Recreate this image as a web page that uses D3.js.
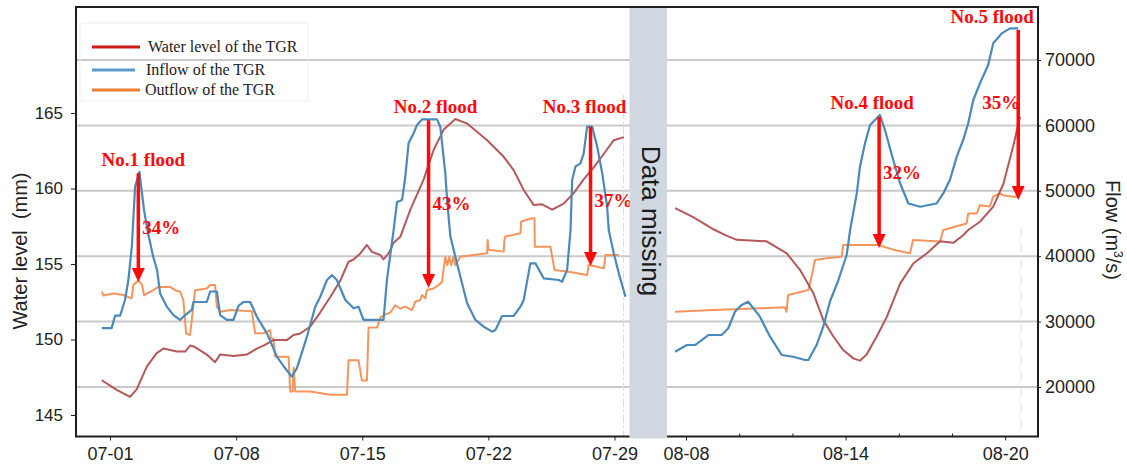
<!DOCTYPE html>
<html>
<head>
<meta charset="utf-8">
<script src="https://cdn.jsdelivr.net/npm/d3@7"></script>
<style>
  body { margin: 0; background: #fff; }
  svg { display: block; }
  .tick text { font-family: "Liberation Sans", Arial, sans-serif; fill: #222; }
  .tick line { stroke: #222; }
</style>
</head>
<body>
<svg id="chart" width="1127" height="465"></svg>
<script>
// [day of month, value]  -- July panel
var julWaterLevel = [
  [0.54, 147.3], [1.37, 146.66], [2.11, 146.2], [2.48, 146.7], [3.04, 148.2], [3.59, 149.1],
  [3.96, 149.4], [4.71, 149.2], [5.17, 149.2], [5.44, 149.6], [5.72, 149.5], [6.37, 149.0],
  [6.83, 148.5], [7.11, 149.0], [7.85, 148.9], [8.59, 149.0], [9.15, 149.4], [9.52, 149.6],
  [10.07, 149.96], [10.82, 149.96], [11.18, 150.3], [11.56, 150.4], [12.11, 150.85],
  [12.67, 151.8], [13.22, 152.8], [13.78, 153.9], [14.24, 155.15], [14.52, 155.3],
  [14.89, 155.7], [15.26, 156.26], [15.54, 155.8], [16.0, 155.6], [16.18, 155.3],
  [16.46, 155.7], [16.74, 156.4], [17.11, 156.8], [17.67, 158.6], [18.41, 160.6],
  [18.96, 162.55], [19.52, 163.9], [20.17, 164.6], [20.82, 164.3], [21.93, 163.2],
  [22.85, 162.1], [23.41, 161.2], [23.96, 159.9], [24.52, 158.9], [24.98, 158.95],
  [25.54, 158.6], [26.18, 159.0], [26.74, 159.7], [27.29, 160.6], [27.85, 161.4],
  [28.41, 162.3], [28.96, 163.2], [29.52, 163.4]
];
var julInflow = [
  [0.54, 29000], [1.09, 29000], [1.28, 30900], [1.56, 30900], [1.83, 33300], [2.02, 36400],
  [2.21, 41500], [2.39, 50600], [2.63, 52900], [2.89, 47000], [3.11, 43500], [3.39, 40000],
  [3.61, 37900], [3.78, 34300], [4.15, 32300], [4.52, 31000], [4.89, 30250], [5.17, 31000],
  [5.54, 31800], [5.63, 33000], [6.37, 33000], [6.56, 34600], [6.93, 34600], [7.11, 31000],
  [7.48, 30250], [7.85, 30250], [8.13, 32400], [8.41, 33000], [8.78, 33000], [9.15, 30750],
  [9.71, 28200], [10.26, 24640], [10.72, 22860], [11.09, 21580], [11.37, 22860],
  [11.93, 27690], [12.39, 32280], [12.67, 33800], [13.04, 36360], [13.32, 37100],
  [13.59, 36360], [14.06, 33300], [14.52, 32030], [14.79, 32280], [15.07, 30250],
  [16.18, 30250], [16.37, 36360], [16.74, 44000], [16.93, 48300], [17.21, 48600],
  [17.39, 52150], [17.57, 57260], [17.85, 58800], [18.04, 60060], [18.32, 60930],
  [19.15, 60930], [19.33, 59800], [19.61, 52660], [19.71, 48600], [19.89, 43000],
  [20.26, 38900], [20.82, 32800], [21.28, 30250], [21.74, 29220], [22.21, 28460],
  [22.39, 28700], [22.76, 30860], [23.41, 30860], [23.78, 32280], [23.96, 33300],
  [24.33, 38900], [24.61, 38900], [25.07, 36620], [25.91, 36360], [26.09, 36100],
  [26.37, 37900], [26.56, 44000], [26.65, 51650], [26.83, 53690], [27.11, 54200],
  [27.29, 55730], [27.48, 59800], [27.76, 59800], [28.04, 56750], [28.32, 52660],
  [28.59, 47600], [28.68, 44000], [28.96, 40440], [29.24, 37380], [29.61, 33800]
];
var julOutflow = [
  [0.54, 34570], [0.63, 34000], [1.18, 34300], [1.74, 34070], [2.2, 33550], [2.29, 35600],
  [2.57, 36300], [2.78, 35600], [2.89, 34000], [3.04, 34300], [3.41, 34800], [3.68, 35300],
  [4.33, 35300], [4.61, 34800], [4.89, 34570], [5.07, 33300], [5.22, 28200], [5.44, 27950],
  [5.54, 30250], [5.72, 34800], [6.37, 35060], [6.56, 35600], [6.83, 35600], [6.93, 32280],
  [7.11, 31510], [7.67, 31770], [8.87, 31600], [8.96, 29900], [9.06, 28200], [9.52, 28200],
  [9.89, 28700], [9.93, 27400], [10.07, 27400], [10.17, 24640], [10.91, 24640], [11.0, 19300],
  [11.14, 19300], [11.19, 23000], [11.28, 19300], [11.39, 19300], [12.11, 19300],
  [13.22, 18800], [14.15, 18800], [14.24, 24100], [14.79, 24100], [14.98, 21000],
  [15.26, 21000], [15.35, 29100], [15.82, 29100], [16.0, 30600], [16.28, 31100],
  [16.56, 31400], [16.83, 32500], [17.11, 32000], [17.39, 32300], [17.76, 31770],
  [17.94, 33040], [18.22, 33300], [18.32, 34070], [18.5, 33550], [18.59, 34830],
  [18.96, 35060], [19.24, 35600], [19.43, 36100], [19.52, 38140], [19.61, 39900],
  [19.72, 38600], [19.83, 39900], [19.94, 38600], [20.06, 39900], [20.17, 38600],
  [20.33, 39400], [20.44, 39920], [21.93, 40440], [21.96, 42480], [22.0, 41000],
  [22.85, 40700], [22.89, 42480], [22.94, 43000], [23.78, 43500], [23.82, 45300],
  [24.43, 45800], [24.56, 45800], [24.58, 41450], [25.44, 41450], [25.54, 39920],
  [25.67, 37900], [26.46, 37630], [27.48, 37120], [27.57, 38650], [28.04, 38400],
  [28.41, 38140], [28.5, 40180], [29.24, 40180]
];

// [day of month, value]  -- August panel
var augWaterLevel = [
  [7.59, 158.7], [8.27, 158.1], [9.03, 157.3], [9.5, 156.9], [9.91, 156.6], [11.03, 156.5],
  [11.79, 155.7], [12.29, 154.6], [12.79, 153.06], [13.16, 151.3], [13.54, 150.2],
  [13.91, 149.3], [14.29, 148.75], [14.54, 148.6], [14.79, 149.0], [15.17, 150.2],
  [15.55, 151.5], [16.05, 153.7], [16.55, 155.05], [17.05, 155.7], [17.55, 156.5],
  [18.05, 156.4], [18.42, 156.9], [18.61, 157.25], [19.05, 157.8], [19.55, 158.8],
  [19.93, 160.3], [20.3, 162.8], [20.56, 164.75]
];
var augInflow = [
  [7.59, 25400], [8.03, 26420], [8.34, 26420], [8.84, 27950], [9.34, 27950], [9.59, 28980],
  [9.84, 31510], [10.09, 32540], [10.34, 33040], [10.78, 30750], [11.16, 27690],
  [11.6, 24890], [12.03, 24630], [12.47, 24130], [12.6, 24130], [12.91, 26420],
  [13.16, 29220], [13.41, 33040], [13.73, 36360], [14.04, 40180], [14.17, 44000],
  [14.42, 49600], [14.54, 53690], [14.73, 57260], [14.92, 60060], [15.17, 61080],
  [15.29, 61590], [15.48, 59300], [15.79, 54700], [16.05, 51150], [16.36, 48060],
  [16.8, 47560], [17.42, 48060], [17.67, 49600], [17.92, 51650], [18.18, 55220],
  [18.42, 57770], [18.61, 60320], [18.8, 63880], [19.05, 66440], [19.36, 69240],
  [19.55, 72550], [19.87, 74070], [20.18, 74840], [20.49, 74840]
];
var augOutflow = [
  [7.59, 31510], [9.03, 31770], [10.78, 32030], [11.72, 32180], [11.78, 31510],
  [11.84, 34070], [12.6, 34830], [12.72, 36870], [12.85, 39420], [13.29, 39670],
  [13.85, 39920], [13.91, 41710], [14.54, 41710], [15.23, 41710], [15.79, 41000],
  [16.42, 40440], [16.54, 42480], [17.55, 42230], [17.67, 44000], [18.55, 45000],
  [18.61, 46530], [18.93, 46530], [19.05, 47800], [19.42, 47600], [19.55, 49100],
  [19.8, 49600], [19.92, 49300], [20.3, 49100], [20.49, 49100]
];

// flood peaks: panel, day, inflow at peak, outflow at arrow tip, reduction
var floodNames = ['No.1 flood', 'No.2 flood', 'No.3 flood', 'No.4 flood', 'No.5 flood'];
var floodPanels = ['jul', 'jul', 'jul', 'aug', 'aug'];
var floodDays = [2.57, 18.68, 27.67, 15.26, 20.49];
var floodTops = [52700, 60800, 59750, 61300, 74600];
var floodBottoms = [36050, 35150, 38500, 41250, 48600];
var floodCuts = ['34%', '43%', '37%', '32%', '35%'];

var julTicks = [1, 8, 15, 22, 29];
var augTicks = [8, 14, 20];
var augMinorTicks = [10, 12, 16, 18];
var levelTicks = [145, 150, 155, 160, 165];
var flowTicks = [20000, 30000, 40000, 50000, 60000, 70000];

var legendLabels = ['Water level of the TGR', 'Inflow of the TGR', 'Outflow of the TGR'];

// layout
var LEFT = 76, RIGHT = 1038, TOP = 7, BOTTOM = 436.5;
var GAP_X0 = 629.5, GAP_X1 = 667;

var COLOR_LEVEL = '#b3585b';
var COLOR_IN = '#4a89b9';
var COLOR_OUT = '#f3955c';
var LEGEND_COLORS = ['#cc1a1a', '#5a9bd0', '#ee7d35'];
var RED = '#ff0a0a';

var svg = d3.select('#chart');

var xJul = d3.scaleLinear().domain([-0.889, 29.833]).range([LEFT, GAP_X0]);
var xAug = d3.scaleLinear().domain([7.286, 21.233]).range([GAP_X1, RIGHT]);
var yLevel = d3.scaleLinear().domain([145, 165]).range([415, 113]);
var yFlow = d3.scaleLinear().domain([20000, 70000]).range([387, 60]);

svg.append('rect').attr('width', 1127).attr('height', 465).attr('fill', '#fff');

// horizontal grid from the flow axis
svg.append('g').selectAll('line')
  .data(flowTicks)
  .enter().append('line')
  .attr('x1', LEFT).attr('x2', RIGHT)
  .attr('y1', function (d) { return yFlow(d); })
  .attr('y2', function (d) { return yFlow(d); })
  .attr('stroke', '#c9c9c9')
  .attr('stroke-width', 2);

// faint "latest" markers
svg.append('line')
  .attr('x1', xJul(29.5)).attr('x2', xJul(29.5))
  .attr('y1', 95).attr('y2', BOTTOM)
  .attr('stroke', '#dcdcdc').attr('stroke-dasharray', '8,3,2,3');
svg.append('line')
  .attr('x1', xAug(20.6)).attr('x2', xAug(20.6))
  .attr('y1', 228).attr('y2', BOTTOM)
  .attr('stroke', '#dcdcdc').attr('stroke-dasharray', '8,3,2,3');

// legend
var legend = svg.append('g');
legend.append('rect')
  .attr('x', 80).attr('y', 23).attr('width', 228).attr('height', 78)
  .attr('fill', 'none').attr('stroke', '#f0f0f0');
var legendY = [47, 70, 90];
var legendX2 = [140, 135, 140];
var legendTx = [148, 146, 145];
legendLabels.forEach(function (label, i) {
  legend.append('line')
    .attr('x1', 92).attr('x2', legendX2[i])
    .attr('y1', legendY[i]).attr('y2', legendY[i])
    .attr('stroke', LEGEND_COLORS[i]).attr('stroke-width', 3);
  legend.append('text')
    .attr('x', legendTx[i]).attr('y', legendY[i] + 5)
    .attr('font-family', '"Liberation Serif", "Times New Roman", serif')
    .attr('font-size', 16)
    .attr('fill', '#222')
    .text(label);
});

// series
function drawPanel (x, level, inflow, outflow) {
  var levelLine = d3.line()
    .x(function (d) { return x(d[0]); })
    .y(function (d) { return yLevel(d[1]); });
  var flowLine = d3.line()
    .x(function (d) { return x(d[0]); })
    .y(function (d) { return yFlow(d[1]); });

  svg.append('path').datum(outflow)
    .attr('d', flowLine)
    .attr('fill', 'none').attr('stroke', COLOR_OUT).attr('stroke-width', 2)
    .attr('stroke-linejoin', 'round');
  svg.append('path').datum(level)
    .attr('d', levelLine)
    .attr('fill', 'none').attr('stroke', COLOR_LEVEL).attr('stroke-width', 2)
    .attr('stroke-linejoin', 'round');
  svg.append('path').datum(inflow)
    .attr('d', flowLine)
    .attr('fill', 'none').attr('stroke', COLOR_IN).attr('stroke-width', 2.2)
    .attr('stroke-linejoin', 'round');
}

drawPanel(xJul, julWaterLevel, julInflow, julOutflow);
drawPanel(xAug, augWaterLevel, augInflow, augOutflow);

// flood arrows and labels
var nameDx = [5, 7, -6, -7, -26];
var nameGap = [7, 7, 14, 8, 7];
var cutDy = [6, 6, 10, -3, -6];
var serif = '"Liberation Serif", "Times New Roman", serif';

floodNames.forEach(function (name, i) {
  var x = floodPanels[i] === 'jul' ? xJul(floodDays[i]) : xAug(floodDays[i]);
  var y0 = yFlow(floodTops[i]);
  var y1 = yFlow(floodBottoms[i]);
  var head = 14;

  svg.append('line')
    .attr('x1', x).attr('x2', x)
    .attr('y1', y0).attr('y2', y1 - head + 1)
    .attr('stroke', RED).attr('stroke-width', 3.5);
  svg.append('path')
    .attr('d', 'M' + (x - 6.5) + ',' + (y1 - head) + 'L' + (x + 6.5) + ',' + (y1 - head) + 'L' + x + ',' + y1 + 'Z')
    .attr('fill', RED);

  svg.append('text')
    .attr('x', x + nameDx[i]).attr('y', y0 - nameGap[i])
    .attr('text-anchor', 'middle')
    .attr('font-family', serif).attr('font-weight', 'bold').attr('font-size', 19)
    .attr('fill', RED)
    .text(name);

  var last = i === floodNames.length - 1;
  svg.append('text')
    .attr('x', last ? x + 2 : x + 4)
    .attr('y', (y0 + y1) / 2 + cutDy[i])
    .attr('text-anchor', last ? 'end' : 'start')
    .attr('font-family', serif).attr('font-weight', 'bold').attr('font-size', 19)
    .attr('fill', RED)
    .text(floodCuts[i]);
});

// frame
svg.append('rect')
  .attr('x', LEFT).attr('y', TOP)
  .attr('width', RIGHT - LEFT).attr('height', BOTTOM - TOP)
  .attr('fill', 'none').attr('stroke', '#1e1e1e').attr('stroke-width', 2);

// axes
function pad (d) { return d3.format('02d')(d); }

var axJul = svg.append('g')
  .attr('transform', 'translate(0,' + BOTTOM + ')')
  .call(d3.axisBottom(xJul).tickValues(julTicks).tickSize(4).tickPadding(7)
    .tickFormat(function (d) { return '07-' + pad(d); }));
var axAug = svg.append('g')
  .attr('transform', 'translate(0,' + BOTTOM + ')')
  .call(d3.axisBottom(xAug).tickValues(augTicks).tickSize(4).tickPadding(7)
    .tickFormat(function (d) { return '08-' + pad(d); }));
svg.append('g')
  .attr('transform', 'translate(0,' + BOTTOM + ')')
  .call(d3.axisTop(xAug).tickValues(augMinorTicks).tickSize(3).tickFormat(''))
  .call(function (g) { g.select('.domain').remove(); g.selectAll('line').attr('stroke', '#999'); });

var axLevel = svg.append('g')
  .attr('transform', 'translate(' + LEFT + ',0)')
  .call(d3.axisLeft(yLevel).tickValues(levelTicks).tickSize(5).tickPadding(8));
var axFlow = svg.append('g')
  .attr('transform', 'translate(' + RIGHT + ',0)')
  .call(d3.axisRight(yFlow).tickValues(flowTicks).tickSize(3).tickPadding(4)
    .tickFormat(d3.format('d')));

[axJul, axAug, axLevel, axFlow].forEach(function (g) {
  g.select('.domain').remove();
  g.selectAll('.tick text').attr('font-size', 18);
});
axLevel.selectAll('.tick text').attr('font-size', 17);

// data gap band
svg.append('rect')
  .attr('x', GAP_X0).attr('y', TOP + 1)
  .attr('width', GAP_X1 - GAP_X0).attr('height', BOTTOM - TOP + 1)
  .attr('fill', '#d1d8e2');
svg.append('text')
  .attr('transform', 'translate(642,221) rotate(90)')
  .attr('text-anchor', 'middle')
  .attr('font-family', '"Liberation Sans", Arial, sans-serif')
  .attr('font-size', 26)
  .attr('fill', '#1a1a1a')
  .text('Data missing');

// axis titles
svg.append('text')
  .attr('transform', 'translate(27,251) rotate(-90)')
  .attr('text-anchor', 'middle')
  .attr('font-family', '"Liberation Sans", Arial, sans-serif')
  .attr('font-size', 20)
  .attr('fill', '#222')
  .attr('xml:space', 'preserve')
  .text('Water level  (mm)');

var flowTitle = svg.append('text')
  .attr('transform', 'translate(1106,230) rotate(90)')
  .attr('text-anchor', 'middle')
  .attr('font-family', '"Liberation Sans", Arial, sans-serif')
  .attr('font-size', 20)
  .attr('fill', '#222');
flowTitle.append('tspan').text('Flow (m');
flowTitle.append('tspan').attr('font-size', 12).attr('dy', -8).text('3');
flowTitle.append('tspan').attr('dy', 8).text('/s)');
</script>
</body>
</html>
